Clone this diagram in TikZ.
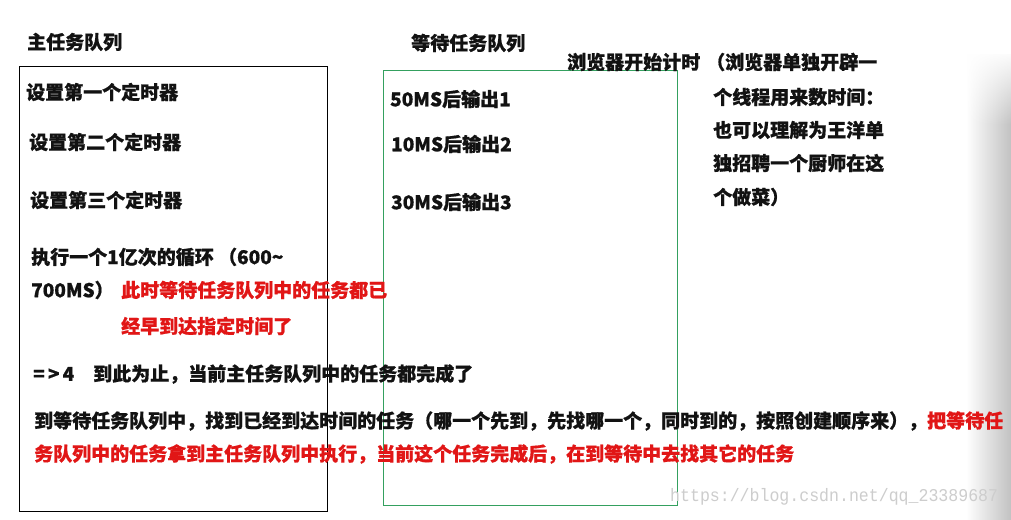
\documentclass[tikz,border=0pt]{standalone}
\usepackage{fontspec}
\setmainfont{Noto Sans CJK SC}[BoldFeatures={FakeBold=0.8}]
\newfontfamily\wmfont{Liberation Mono}
\usetikzlibrary{fadings}
\definecolor{txtred}{RGB}{225,22,22}
\definecolor{txtblack}{RGB}{18,18,18}
\definecolor{boxgreen}{RGB}{52,160,95}
\definecolor{wmgray}{RGB}{205,205,205}
\tikzset{
  lbl/.style={anchor=west, inner sep=0pt, text=txtblack, font=\fontsize{19}{19}\selectfont\bfseries},
  redlbl/.style={lbl, text=txtred},
  mainbox/.style={draw=black, line width=0.9pt},
  waitbox/.style={draw=boxgreen, line width=0.9pt},
}
\begin{document}
\begin{tikzpicture}[x=1pt, y=-1pt]
\useasboundingbox (0,0) rectangle (1011,519);
\fill[white] (0,0) rectangle (1011,519);
% right page shadow
\shade[left color=white, right color=black!24] (966,55) rectangle (1011,519);
\fill[white, path fading=south] (965,50) rectangle (1012,125);
% boxes
\draw[mainbox] (19,66) rectangle (327,511);
\draw[waitbox] (383,70) rectangle (677,505);
% titles
\node[lbl] (t1) at (27,42) {主任务队列};
\node[lbl] (t2) at (411,43) {等待任务队列};
% main queue items
\node[lbl] (m1) at (26,92) {设置第一个定时器};
\node[lbl] (m2) at (29,142) {设置第二个定时器};
\node[lbl] (m3) at (30,200) {设置第三个定时器};
\node[lbl] (m4) at (31,257) {执行一个1亿次的循环 （600\textasciitilde};
\node[lbl] (m5) at (31,290) {700MS）};
\node[redlbl] (n1) at (121,290) {此时等待任务队列中的任务都已};
\node[redlbl] (n2) at (121,326) {经早到达指定时间了};
\node[lbl] (m6) at (33,374) {=\,>\,4\hspace{19pt}到此为止，当前主任务队列中的任务都完成了};
% waiting queue items
\node[lbl] (w1) at (390,99) {50MS后输出1};
\node[lbl] (w2) at (391,144) {10MS后输出2};
\node[lbl] (w3) at (391,202) {30MS后输出3};
% browser timer
\node[lbl] (b0) at (567,62) {浏览器开始计时};
\node[lbl] (b1) at (706,62) {（浏览器单独开辟一};
\node[lbl] (b2) at (713,97) {个线程用来数时间：};
\node[lbl] (b3) at (713,130) {也可以理解为王洋单};
\node[lbl] (b4) at (713,163) {独招聘一个厨师在这};
\node[lbl] (b5) at (713,197) {个做菜）};
% bottom explanation
\node[lbl] (e1) at (34,421) {到等待任务队列中，找到已经到达时间的任务（哪一个先到，先找哪一个，同时到的，按照创建顺序来），{\color{txtred}把等待任}};
\node[redlbl] (e2) at (34,454) {务队列中的任务拿到主任务队列中执行，当前这个任务完成后，在到等待中去找其它的任务};
% watermark
\node[anchor=west, inner sep=0pt, text=wmgray, xscale=0.92, font=\wmfont\fontsize{18}{18}\selectfont] (wm) at (670,497) {https://blog.csdn.net/qq\_23389687};
\end{tikzpicture}
\end{document}
